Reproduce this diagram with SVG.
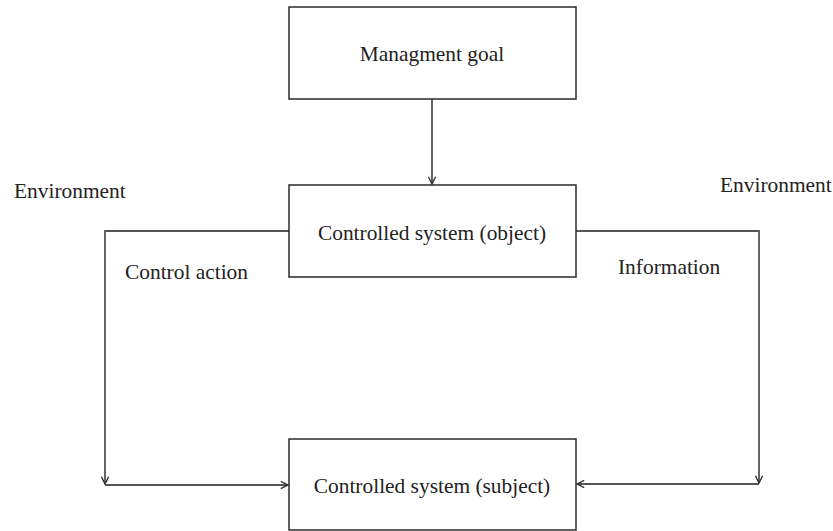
<svg xmlns="http://www.w3.org/2000/svg" width="833" height="531" viewBox="0 0 833 531">
<style>
.box{fill:#fff;stroke:#2a2a2a;stroke-width:1.5}
.lbl{font-family:"Liberation Serif","Times New Roman","DejaVu Serif",serif;font-size:21.4px;fill:#222}
.c{text-anchor:middle}
.ln{fill:none;stroke:#555;stroke-width:1.8}
</style>
<defs>
<marker id="ah" viewBox="0 0 10 10" refX="9" refY="5" markerWidth="9" markerHeight="9" markerUnits="userSpaceOnUse" orient="auto">
<path d="M1,1 L9,5 L1,9" fill="none" stroke="#333" stroke-width="1.6"/>
</marker>
</defs>
<rect width="833" height="531" fill="#fff"/>
<g id="connectors">
<line class="ln" x1="432" y1="99" x2="432" y2="184" marker-end="url(#ah)"/>
<polyline class="ln" points="289,231 105,231 105,484" marker-end="url(#ah)"/>
<line class="ln" x1="105" y1="485" x2="288" y2="485" marker-end="url(#ah)"/>
<polyline class="ln" points="576,231 759,231 759,483" marker-end="url(#ah)"/>
<line class="ln" x1="759" y1="484" x2="577" y2="484" marker-end="url(#ah)"/>
</g>
<g id="goal">
<rect class="box" x="289" y="7" width="287" height="92"/>
<text class="lbl c" x="432" y="61">Managment goal</text>
</g>
<g id="object">
<rect class="box" x="289" y="185" width="287" height="92"/>
<text class="lbl c" x="432" y="240">Controlled system (object)</text>
</g>
<g id="subject">
<rect class="box" x="289" y="439" width="287" height="91"/>
<text class="lbl c" x="432" y="493">Controlled system (subject)</text>
</g>
<g id="labels">
<text class="lbl" x="14" y="198">Environment</text>
<text class="lbl" x="720" y="192">Environment</text>
<text class="lbl" x="125" y="279">Control action</text>
<text class="lbl" x="618" y="274">Information</text>
</g>
</svg>
